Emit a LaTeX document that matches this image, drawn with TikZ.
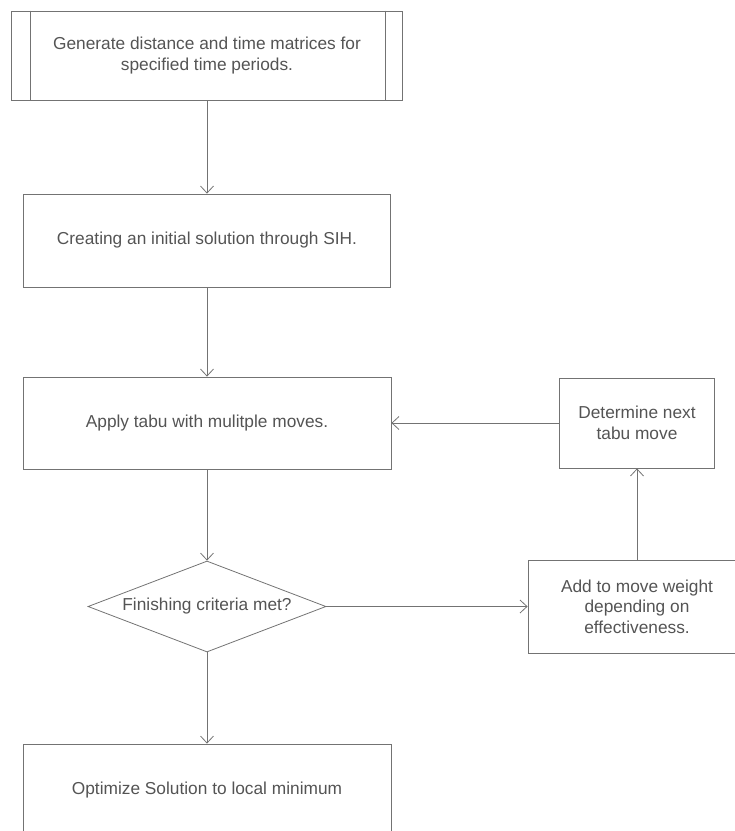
\documentclass[tikz,border=0pt]{standalone}
\usepackage{fontspec}
\setmainfont{Liberation Sans}
\usetikzlibrary{arrows.meta,shapes.geometric}
\definecolor{inkline}{gray}{0.45}
\definecolor{inktext}{gray}{0.33}

\begin{document}
\begin{tikzpicture}[x=1pt,y=1pt,>={Straight Barb[length=7pt,width=13pt]},line width=0.8pt,
  font=\fontsize{17.3}{20.5}\selectfont,
  proc/.style={draw=inkline,text=inktext,align=center,inner sep=0pt},
  flow/.style={->,draw=inkline}]
  \path[use as bounding box,clip] (0,0) rectangle (735,-831);
  \node[proc,minimum width=391,minimum height=89] (gen) at (207,-55.5)
    {Generate distance and time matrices for\\specified time periods.};
  \draw[inkline] ([xshift=19]gen.north west) -- ([xshift=19]gen.south west);
  \draw[inkline] ([xshift=-18]gen.north east) -- ([xshift=-18]gen.south east);
  \node[proc,minimum width=367,minimum height=93] (init) at (207,-240.5)
    {Creating an initial solution through SIH.};
  \node[proc,minimum width=368,minimum height=92] (tabu) at (207,-423)
    {Apply tabu with mulitple moves.};
  \node[proc,minimum width=155,minimum height=90] (next) at (637,-423)
    {Determine next\\tabu move};
  \node[proc,diamond,aspect=2.6,minimum width=238,minimum height=91] (crit) at (207,-606.5)
    {Finishing criteria met?};
  \node[proc,minimum width=218,minimum height=93] (add) at (637,-606.5)
    {Add to move weight\\depending on\\effectiveness.};
  \node[proc,minimum width=368,minimum height=92] (opt) at (207,-790)
    {Optimize Solution to local minimum};
  \draw[flow] (gen) -- (init);
  \draw[flow] (init) -- (tabu);
  \draw[flow] (tabu) -- (crit);
  \draw[flow] (crit) -- (add);
  \draw[flow] (add) -- (next);
  \draw[flow] (next) -- (tabu);
  \draw[flow] (crit) -- (opt);
\end{tikzpicture}
\end{document}
